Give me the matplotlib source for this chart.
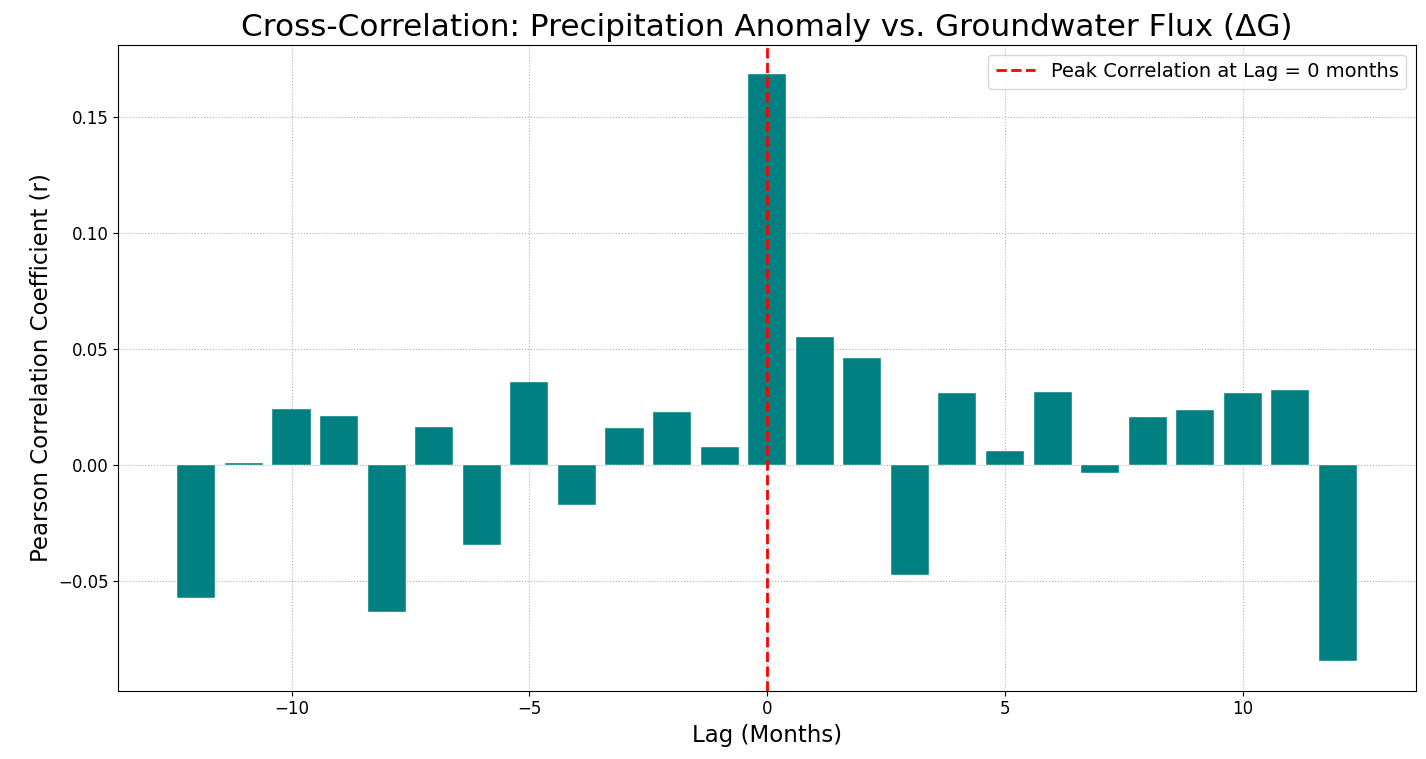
import matplotlib.pyplot as plt
import numpy as np

lags = np.arange(-12, 13)
corr = [-0.0575, 0.0008, 0.0243, 0.0213, -0.0636, 0.0164, -0.0346, 0.0357,
        -0.0174, 0.0157, 0.0230, 0.0079, 0.1685, 0.0551, 0.0460, -0.0475,
        0.0309, 0.0062, 0.0316, -0.0034, 0.0206, 0.0237, 0.0309, 0.0321, -0.0847]
peak_lag = 0

fig, ax = plt.subplots(figsize=(14.26, 7.59), dpi=100)
ax.bar(lags, corr, color='teal', edgecolor='white', linewidth=0.3, zorder=2)
ax.axvline(peak_lag, color='red', linestyle='--', linewidth=2,
           label='Peak Correlation at Lag = %d months' % peak_lag, zorder=3)

ax.set_title('Cross-Correlation: Precipitation Anomaly vs. Groundwater Flux (ΔG)', fontsize=22.4)
ax.set_xlabel('Lag (Months)', fontsize=16.5)
ax.set_ylabel('Pearson Correlation Coefficient (r)', fontsize=16.5)
ax.tick_params(labelsize=12)
ax.grid(True, linestyle=':', color='gray', alpha=0.6, zorder=0)
ax.legend(fontsize=14, loc='upper right')

plt.subplots_adjust(left=0.083, right=0.993, top=0.941, bottom=0.09)
plt.savefig('out.png')
